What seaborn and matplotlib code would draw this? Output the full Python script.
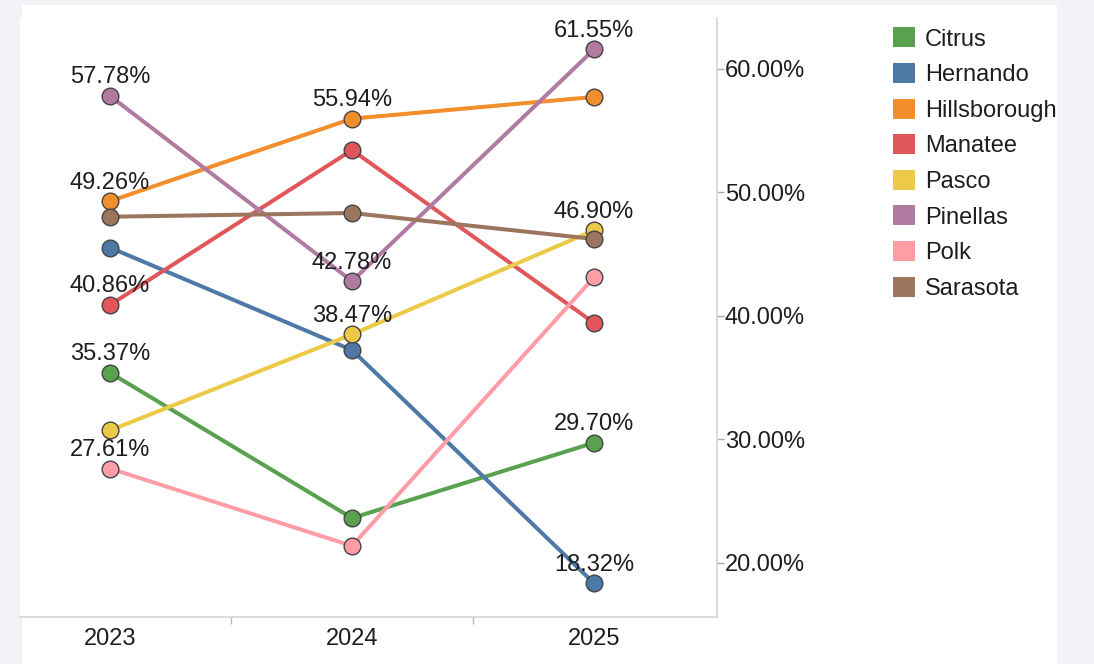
import matplotlib
matplotlib.use("Agg")
import matplotlib.pyplot as plt
from matplotlib.patches import Patch, Rectangle
from matplotlib.ticker import FixedLocator, FuncFormatter
import seaborn as sns
import pandas as pd

# Year columns and county series (percent values)
years = ["2023", "2024", "2025"]
counties = ["Citrus", "Hernando", "Hillsborough", "Manatee",
            "Pasco", "Pinellas", "Polk", "Sarasota"]
citrus = [35.37, 23.60, 29.70]
hernando = [45.50, 37.20, 18.32]
hillsborough = [49.26, 55.94, 57.70]
manatee = [40.86, 53.40, 39.40]
pasco = [30.70, 38.47, 46.90]
pinellas = [57.78, 42.78, 61.55]
polk = [27.61, 21.35, 43.10]
sarasota = [48.00, 48.30, 46.20]

colors = ["#59a14f", "#4e79a7", "#f28e2b", "#e15759",
          "#edc948", "#b07aa1", "#ff9da7", "#9c755f"]

# Points that carry a value label: (county, year)
labeled = [("Pinellas", "2023"), ("Hillsborough", "2023"), ("Manatee", "2023"),
           ("Citrus", "2023"), ("Polk", "2023"),
           ("Hillsborough", "2024"), ("Pinellas", "2024"), ("Pasco", "2024"),
           ("Pinellas", "2025"), ("Pasco", "2025"), ("Citrus", "2025"),
           ("Hernando", "2025")]

series = [citrus, hernando, hillsborough, manatee, pasco, pinellas, polk, sarasota]
rows = []
for name, vals in zip(counties, series):
    for i, (yr, v) in enumerate(zip(years, vals)):
        rows.append({"county": name, "year": yr, "pos": i, "value": v})
df = pd.DataFrame(rows)

sns.set_theme(style="white")
plt.rcParams["font.family"] = ["Liberation Sans", "DejaVu Sans"]

W, H = 1094, 664
fig = plt.figure(figsize=(W / 100, H / 100), dpi=100, facecolor="#f1f3f7")
fig.patches.append(Rectangle((22 / W, 0), (1057 - 22) / W, (H - 5) / H,
                             transform=fig.transFigure, facecolor="white",
                             edgecolor="none", zorder=-10))
ax = fig.add_axes([20 / W, (H - 617) / H, (717 - 20) / W, (617 - 18) / H])
ax.set_facecolor("white")
ax.set_zorder(1)

palette = dict(zip(counties, colors))
sns.lineplot(data=df, x="pos", y="value", hue="county", hue_order=counties,
             palette=palette, marker="o", markersize=12, linewidth=2.9,
             markeredgecolor="#444444", markeredgewidth=1.0,
             legend=False, ax=ax, sort=False)

text_color = "#1e1e1e"
fs = 17
for name, yr in labeled:
    v = df[(df.county == name) & (df.year == yr)].value.iloc[0]
    p = years.index(yr)
    ax.annotate(f"{v:.2f}%", (p, v), xytext=(0, 9), textcoords="offset points",
                ha="center", va="baseline", fontsize=fs, color=text_color,
                zorder=5)

ax.set_xlim(-0.372, 2.508)
ax.set_ylim(15.59, 64.09)

# x axis: year labels at category centres, small ticks between categories
ax.set_xticks(range(len(years)))
ax.set_xticklabels(years, fontsize=fs, color=text_color)
ax.xaxis.set_minor_locator(FixedLocator([0.5, 1.5]))
ax.tick_params(axis="x", which="major", length=0, pad=8)
ax.tick_params(axis="x", which="minor", bottom=True, length=5, width=1,
               color="#b8b8b8")

# y axis on the right
ax.yaxis.tick_right()
ax.set_yticks([20, 30, 40, 50, 60])
ax.yaxis.set_major_formatter(FuncFormatter(lambda v, _: f"{v:.2f}%"))
ax.tick_params(axis="y", right=True, length=5, width=1, color="#a8a8a8",
               labelsize=fs, labelcolor=text_color, pad=0.5)
ax.set_xlabel("")
ax.set_ylabel("")

for side in ["top", "left"]:
    ax.spines[side].set_visible(False)
for side in ["right", "bottom"]:
    ax.spines[side].set_color("#d4d4d4")
    ax.spines[side].set_linewidth(1.2)

handles = [Patch(facecolor=c, edgecolor="none", label=n)
           for n, c in zip(counties, colors)]
fig.legend(handles=handles, loc="upper left",
           bbox_to_anchor=(884 / W, 1 - 18 / H), frameon=False,
           fontsize=fs, handlelength=0.92, handleheight=0.92,
           handletextpad=0.42, labelspacing=0.53, borderaxespad=0,
           labelcolor=text_color)

fig.savefig("out.png", dpi=100, facecolor=fig.get_facecolor())
